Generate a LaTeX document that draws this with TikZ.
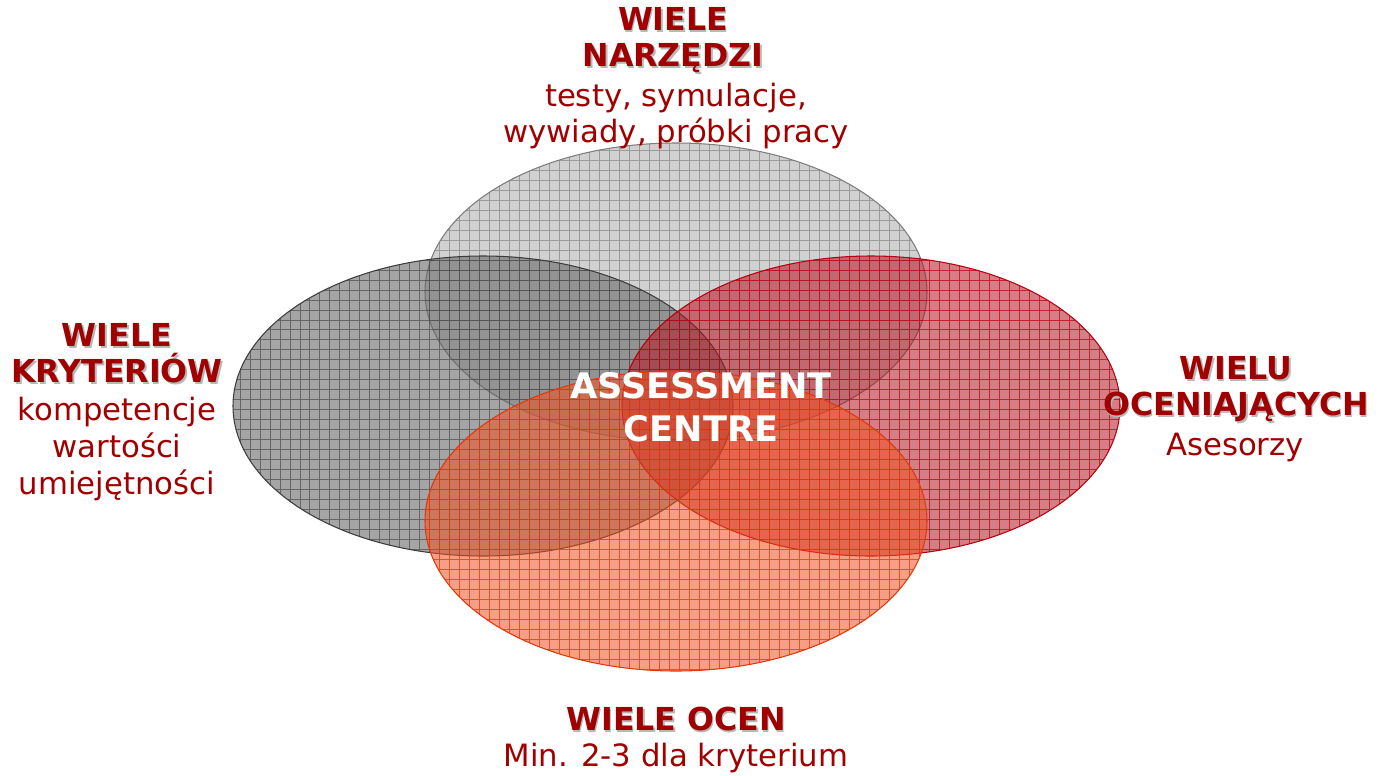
\documentclass[tikz,border=0pt]{standalone}
\usepackage{fontspec}
\setmainfont{DejaVu Sans}
\definecolor{tred}{RGB}{160,0,0}
\definecolor{topfill}{RGB}{185,185,185}
\definecolor{topline}{RGB}{125,125,125}
\definecolor{leftfill}{RGB}{105,105,105}
\definecolor{leftline}{RGB}{60,60,60}
\definecolor{rightfill}{RGB}{180,20,35}
\definecolor{rightline}{RGB}{185,0,15}
\definecolor{botfill}{RGB}{240,80,35}
\definecolor{botline}{RGB}{225,55,10}
\newcommand\shd[1]{\leavevmode\rlap{\kern0.9pt\raisebox{-0.9pt}{\textcolor{black!28}{#1}}}#1}
\begin{document}
\begin{tikzpicture}[x=0.02cm,y=-0.02cm,
  title/.style={text=tred, font=\bfseries\fontsize{18}{20.6}\selectfont, align=center, inner sep=0pt},
  sub/.style={text=tred, font=\fontsize{17.5}{20.8}\selectfont, align=center, inner sep=0pt},
  centre/.style={text=white, font=\bfseries\fontsize{20}{24.4}\selectfont, align=center, inner sep=0pt},
  gridl/.style={line width=0.5pt, step=0.2cm}]
\useasboundingbox (0,0) rectangle (1386,775);
% top ellipse
\begin{scope}
  \clip (676,292) ellipse [x radius=251, y radius=149];
  \fill[topfill, fill opacity=0.65] (0,0) rectangle (1386,775);
  \draw[gridl, topline, opacity=0.65] (0,0) grid (1386,775);
\end{scope}
\draw[topline, line width=0.6pt] (676,292) ellipse [x radius=251, y radius=149];
% left ellipse
\begin{scope}
  \clip (483,406) ellipse [x radius=250, y radius=150];
  \fill[leftfill, fill opacity=0.6] (0,0) rectangle (1386,775);
  \draw[gridl, leftline, opacity=0.6] (0,0) grid (1386,775);
\end{scope}
\draw[leftline, line width=0.6pt] (483,406) ellipse [x radius=250, y radius=150];
% right ellipse
\begin{scope}
  \clip (871,406) ellipse [x radius=249, y radius=150];
  \fill[rightfill, fill opacity=0.55] (0,0) rectangle (1386,775);
  \draw[gridl, rightline, opacity=0.7] (0,0) grid (1386,775);
\end{scope}
\draw[rightline, line width=0.6pt] (871,406) ellipse [x radius=249, y radius=150];
% bottom ellipse
\begin{scope}
  \clip (676,521) ellipse [x radius=251, y radius=150];
  \fill[botfill, fill opacity=0.55] (0,0) rectangle (1386,775);
  \draw[gridl, botline, opacity=0.75] (0,0) grid (1386,775);
\end{scope}
\draw[botline, line width=0.6pt] (676,521) ellipse [x radius=251, y radius=150];
% texts
\node[centre] (ac) at (701,407) {ASSESSMENT\\CENTRE};
\node[title] (t1) at (673,41) {\shd{WIELE}\\\shd{NARZĘDZI}};
\node[sub] (t2) at (676,116) {testy, symulacje,\\wywiady, próbki pracy};
\node[title] (l1) at (117,354) {\shd{WIELE}\\\shd{KRYTERIÓW}};
\node[sub] (l2) at (117,449) {kompetencje\\wartości\\umiejętności};
\node[title] (r1) at (1236,390) {\shd{WIELU}\\\shd{OCENIAJĄCYCH}};
\node[sub] (r2) at (1235,447) {Asesorzy};
\node[title] (b1) at (676,720) {\shd{WIELE OCEN}};
\node[sub] (b2) at (676,758) {Min. 2-3 dla kryterium};
\end{tikzpicture}
\end{document}
